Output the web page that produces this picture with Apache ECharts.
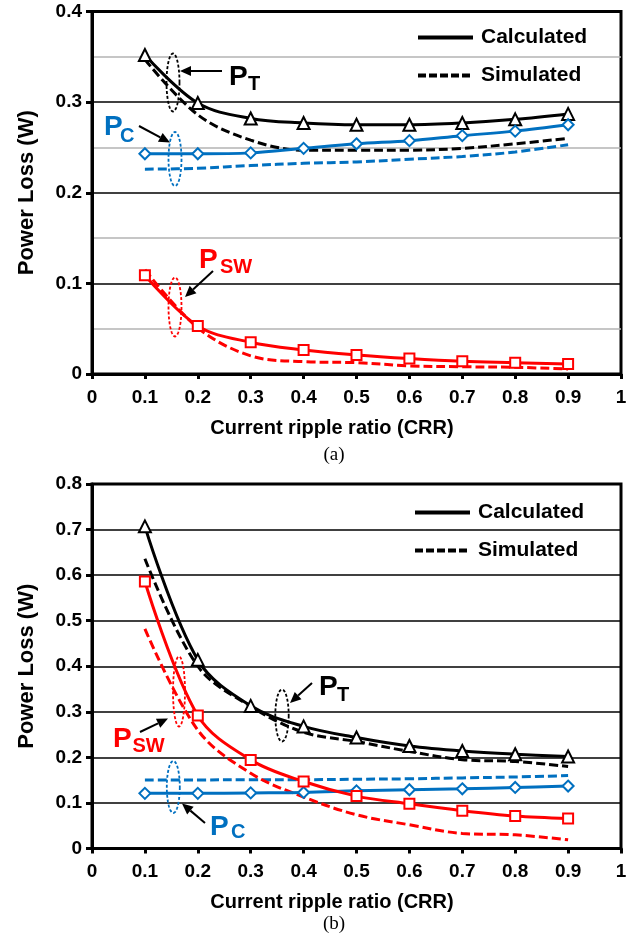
<!DOCTYPE html>
<html>
<head>
<meta charset="utf-8">
<script src="https://cdn.jsdelivr.net/npm/echarts@6/dist/echarts.min.js"></script>
<style>
  html, body { margin: 0; padding: 0; background: #fff; }
  #chart { width: 644px; height: 939px; }
</style>
</head>
<body>
<div id="chart"></div>
<script>
// Current ripple ratio sample points
const crr = [0.1, 0.2, 0.3, 0.4, 0.5, 0.6, 0.7, 0.8, 0.9];

// (a) power losses in W
const ptCalcA  = [0.352, 0.299, 0.282, 0.277, 0.275, 0.275, 0.277, 0.281, 0.287];
const ptSimA   = [0.347, 0.286, 0.258, 0.247, 0.247, 0.247, 0.249, 0.254, 0.260];
const pcCalcA  = [0.243, 0.243, 0.244, 0.249, 0.254, 0.2575, 0.263, 0.268, 0.275];
const pcSimA   = [0.226, 0.227, 0.230, 0.2325, 0.234, 0.237, 0.240, 0.245, 0.253];
const pswCalcA = [0.109, 0.053, 0.035, 0.0265, 0.021, 0.017, 0.014, 0.0125, 0.011];
const pswSimA  = [0.115, 0.051, 0.020, 0.0136, 0.0125, 0.009, 0.008, 0.0074, 0.0055];

// (b) power losses in W
const ptCalcB  = [0.707, 0.414, 0.313, 0.268, 0.2435, 0.225, 0.214, 0.207, 0.202];
const ptSimB   = [0.636, 0.400, 0.312, 0.255, 0.235, 0.213, 0.195, 0.191, 0.180];
const pcCalcB  = [0.121, 0.121, 0.122, 0.123, 0.1265, 0.129, 0.131, 0.134, 0.137];
const pcSimB   = [0.1505, 0.1505, 0.151, 0.151, 0.152, 0.153, 0.155, 0.157, 0.160];
const pswCalcB = [0.586, 0.292, 0.1945, 0.147, 0.115, 0.098, 0.083, 0.0714, 0.066];
const pswSimB  = [0.482, 0.260, 0.165, 0.113, 0.074, 0.052, 0.033, 0.030, 0.019];

// Axis settings
const xMin = 0, xMax = 1, xStep = 0.1;
const yMaxA = 0.4, yMaxB = 0.8, yStep = 0.1;
const legendNames = ['Calculated', 'Simulated'];
const xTitle = 'Current ripple ratio (CRR)';
const yTitle = 'Power Loss (W)';

const BLACK = '#000000', BLUE = '#0070c0', RED = '#ff0000';
const FONT = '"Liberation Sans", Arial, sans-serif';
const DASH = [9, 4];

const pairs = ys => crr.map((x, i) => [x, ys[i]]);

function calcSeries(g, ys, color, symbol, size) {
  return {
    type: 'line', xAxisIndex: g, yAxisIndex: g, data: pairs(ys),
    smooth: 0.35, symbol: symbol, symbolSize: size, showSymbol: true,
    lineStyle: { color: color, width: 3 },
    itemStyle: { color: '#ffffff', borderColor: color, borderWidth: 2 },
    z: 4, silent: true, animation: false
  };
}
function simSeries(g, ys, color) {
  return {
    type: 'line', xAxisIndex: g, yAxisIndex: g, data: pairs(ys),
    smooth: 0.35, symbol: 'none',
    lineStyle: { color: color, width: 3, type: DASH },
    z: 3, silent: true, animation: false
  };
}

function xAxisFor(g) {
  return {
    type: 'value', gridIndex: g, min: xMin, max: xMax, interval: xStep,
    axisLine: { show: true, lineStyle: { color: BLACK, width: 3 } },
    axisTick: { show: true, inside: false, length: 5, lineStyle: { color: BLACK, width: 3 } },
    axisLabel: { color: BLACK, fontSize: 19, fontWeight: 'bold', fontFamily: FONT, margin: 14 },
    splitLine: { show: false },
    name: xTitle, nameLocation: 'middle', nameGap: 44,
    nameTextStyle: { color: BLACK, fontSize: 20, fontWeight: 'bold', fontFamily: FONT, padding: [0, 49, 0, 0] }
  };
}
function yAxisFor(g, max, minor) {
  return {
    type: 'value', gridIndex: g, min: 0, max: max, interval: yStep,
    axisLine: { show: true, lineStyle: { color: BLACK, width: 3 } },
    axisTick: { show: true, inside: false, length: 6, lineStyle: { color: BLACK, width: 3 } },
    axisLabel: { color: BLACK, fontSize: 19, fontWeight: 'bold', fontFamily: FONT, margin: 10 },
    splitLine: { show: true, lineStyle: { color: BLACK, width: 1.5 } },
    minorTick: { show: false, splitNumber: 2 },
    minorSplitLine: { show: minor, lineStyle: { color: '#b4b4b4', width: 1.5 } },
    name: yTitle, nameLocation: 'middle', nameGap: 54, nameRotate: 90,
    nameTextStyle: { color: BLACK, fontSize: 22, fontWeight: 'bold', fontFamily: FONT }
  };
}

function legendFor(left, top) {
  return {
    orient: 'vertical', left: left, top: top, padding: 0, itemWidth: 55, itemHeight: 14,
    itemGap: 17, data: legendNames, selectedMode: false,
    itemStyle: { opacity: 0 },
    lineStyle: { width: 4 },
    textStyle: { color: BLACK, fontSize: 21, fontWeight: 'bold', fontFamily: FONT, lineHeight: 21, padding: [0, 0, 0, 3] }
  };
}

// ---- annotations: dotted ellipses, arrows and subscripted labels ----
function ellipse(cx, cy, rx, ry, color) {
  const pts = [];
  for (let k = 0; k < 72; k++) {
    const t = (k / 72) * Math.PI * 2;
    pts.push([cx + rx * Math.cos(t), cy + ry * Math.sin(t)]);
  }
  return {
    type: 'polygon', shape: { points: pts }, z: 20, silent: true,
    style: { fill: 'none', stroke: color, lineWidth: 1.8, lineDash: [3, 2] }
  };
}
function arrow(x1, y1, x2, y2) {
  const ang = Math.atan2(y2 - y1, x2 - x1);
  const L = 11, W = 5;
  const bx = x2 - L * Math.cos(ang), by = y2 - L * Math.sin(ang);
  const nx = -Math.sin(ang), ny = Math.cos(ang);
  return [
    { type: 'line', shape: { x1: x1, y1: y1, x2: bx, y2: by }, z: 20, silent: true,
      style: { stroke: BLACK, lineWidth: 2 } },
    { type: 'polygon', z: 20, silent: true,
      shape: { points: [[x2, y2], [bx + nx * W, by + ny * W], [bx - nx * W, by - ny * W]] },
      style: { fill: BLACK } }
  ];
}
function label(x, y, main, sub, subX, subY, color) {
  return [
    { type: 'text', z: 20, silent: true,
      style: { x: x, y: y, text: main, fill: color, fontSize: 28, fontWeight: 'bold', fontFamily: FONT,
               textAlign: 'left', textVerticalAlign: 'middle' } },
    { type: 'text', z: 20, silent: true,
      style: { x: subX, y: subY, text: sub, fill: color, fontSize: 20, fontWeight: 'bold', fontFamily: FONT,
               textAlign: 'left', textVerticalAlign: 'middle' } }
  ];
}
function caption(x, y, text) {
  return { type: 'text', z: 20, silent: true,
    style: { x: x, y: y, text: text, fill: BLACK, fontSize: 19, fontFamily: '"Liberation Serif", "Times New Roman", serif',
             textAlign: 'center', textVerticalAlign: 'middle' } };
}

const graphics = [].concat(
  // (a)
  ellipse(173, 82.5, 6.5, 29, BLACK),
  arrow(222, 71, 180, 71),
  label(229, 77, 'P', 'T', 248, 84, BLACK),
  ellipse(175, 159, 6.5, 27, BLUE),
  arrow(139, 126, 170, 142.5),
  label(104, 127, 'P', 'C', 120, 136, BLUE),
  ellipse(175, 307, 6.5, 29.5, RED),
  arrow(213, 271, 185, 297),
  label(199, 260, 'P', 'SW', 220, 267, RED),
  caption(334, 455, '(a)'),
  // (b)
  ellipse(282, 715.5, 6.7, 26, BLACK),
  arrow(312, 683, 290, 703),
  label(319, 687, 'P', 'T', 337, 695.5, BLACK),
  ellipse(179, 691.5, 6, 35, RED),
  arrow(140, 732, 168, 718.5),
  label(113, 739, 'P', 'SW', 132.5, 746, RED),
  ellipse(173.3, 787, 6.5, 26, BLUE),
  arrow(205, 823, 182, 803.5),
  label(210, 827.5, 'P', 'C', 231, 832.5, BLUE),
  caption(334, 924, '(b)')
);

const option = {
  backgroundColor: '#ffffff',
  animation: false,
  grid: [
    { left: 92, top: 11.5, width: 529, height: 362.5, show: true, borderColor: BLACK, borderWidth: 3, containLabel: false },
    { left: 92, top: 484, width: 529, height: 364.5, show: true, borderColor: BLACK, borderWidth: 3, containLabel: false }
  ],
  xAxis: [xAxisFor(0), xAxisFor(1)],
  yAxis: [yAxisFor(0, yMaxA, true), yAxisFor(1, yMaxB, false)],
  legend: [legendFor(416, 27), legendFor(413, 502)],
  series: [
    { name: legendNames[0], type: 'line', xAxisIndex: 0, yAxisIndex: 0, data: [], symbol: 'none',
      lineStyle: { color: BLACK, width: 4 }, itemStyle: { color: BLACK } },
    { name: legendNames[1], type: 'line', xAxisIndex: 0, yAxisIndex: 0, data: [], symbol: 'none',
      lineStyle: { color: BLACK, width: 4, type: [8, 3] }, itemStyle: { color: BLACK } },

    simSeries(0, ptSimA, BLACK),
    simSeries(0, pcSimA, BLUE),
    simSeries(0, pswSimA, RED),
    calcSeries(0, ptCalcA, BLACK, 'triangle', 12),
    calcSeries(0, pcCalcA, BLUE, 'diamond', 11),
    calcSeries(0, pswCalcA, RED, 'rect', 10),

    simSeries(1, ptSimB, BLACK),
    simSeries(1, pcSimB, BLUE),
    simSeries(1, pswSimB, RED),
    calcSeries(1, ptCalcB, BLACK, 'triangle', 12),
    calcSeries(1, pcCalcB, BLUE, 'diamond', 11),
    calcSeries(1, pswCalcB, RED, 'rect', 10)
  ],
  graphic: graphics
};

const chart = echarts.init(document.getElementById('chart'), null, { renderer: 'canvas' });
chart.setOption(option);
</script>
</body>
</html>
